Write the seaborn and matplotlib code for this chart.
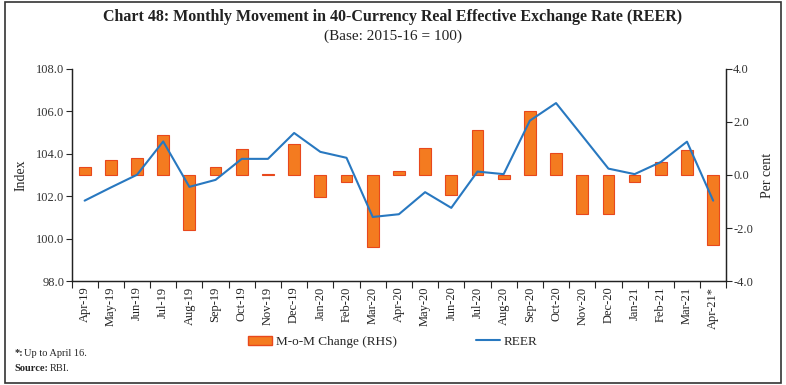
"""Chart 48: Monthly movement in 40-currency REER."""

import matplotlib
matplotlib.use('Agg')
import matplotlib.pyplot as plt
import matplotlib.patches as mpatches
import matplotlib.lines as mlines
from matplotlib.ticker import FixedLocator
import numpy as np
import pandas as pd
import seaborn as sns

# Datos
months = ['Apr-19', 'May-19', 'Jun-19', 'Jul-19', 'Aug-19', 'Sep-19', 'Oct-19',
          'Nov-19', 'Dec-19', 'Jan-20', 'Feb-20', 'Mar-20', 'Apr-20', 'May-20',
          'Jun-20', 'Jul-20', 'Aug-20', 'Sep-20', 'Oct-20', 'Nov-20', 'Dec-20',
          'Jan-21', 'Feb-21', 'Mar-21', 'Apr-21*']
mom_change = [0.30, 0.58, 0.64, 1.51, -2.09, 0.30, 0.98, 0.03, 1.18, -0.83,
              -0.28, -2.73, 0.16, 1.02, -0.77, 1.70, -0.15, 2.42, 0.83, -1.49,
              -1.49, -0.28, 0.49, 0.95, -2.64]
reer = [101.79, 102.41, 103.01, 104.58, 102.44, 102.77, 103.76, 103.76, 104.98,
        104.09, 103.81, 101.02, 101.15, 102.19, 101.45, 103.16, 103.04, 105.56,
        106.39, 104.85, 103.30, 103.04, 103.61, 104.57, 101.79]

sns.set_style('white')
plt.rcParams['font.family'] = ['Liberation Serif', 'DejaVu Serif']

df = pd.DataFrame({'month': months, 'mom': mom_change, 'reer': reer,
                   'pos': np.arange(len(months))})

fig = plt.figure(figsize=(7.86, 3.85), dpi=100)
ax = fig.add_axes([0.091, 0.27, 0.833, 0.551])
ax2 = ax.twinx()

bar_color = '#F47B20'
line_color = '#2878C0'

# Barras (eje derecho)
sns.barplot(data=df, x='month', y='mom', ax=ax2, color=bar_color, width=0.45,
            edgecolor='#E8481C', linewidth=0.8, saturation=1)
# Línea REER (eje izquierdo)
sns.lineplot(data=df, x='pos', y='reer', ax=ax, color=line_color, linewidth=1.5)

ax.set_zorder(ax2.get_zorder() + 1)
ax.patch.set_visible(False)

n = len(months)
ax.set_xlim(-0.5, n - 0.5)
ax.set_ylim(98, 108)
ax.set_yticks(np.arange(98, 108.1, 2))
ax.set_yticklabels([f'{v:.1f}' for v in np.arange(98, 108.1, 2)],
                   fontsize=9, color='#333333')
ax2.set_ylim(-4, 4)
ax2.set_yticks(np.arange(-4, 4.1, 2))
ax2.set_yticklabels([f'{v:.1f}' for v in np.arange(-4, 4.1, 2)],
                    fontsize=9, color='#333333')

ax.set_xticks(np.arange(n))
ax.set_xticklabels(months, rotation=90, fontsize=9, color='#222222')
ax.xaxis.set_minor_locator(FixedLocator(np.arange(-0.5, n, 1)))
ax.tick_params(axis='x', which='major', length=0, pad=4)
ax.tick_params(axis='x', which='minor', length=5, width=0.8, direction='out',
               bottom=True)
ax.tick_params(axis='y', length=4, width=0.8, direction='out', left=True, pad=1)
ax2.tick_params(axis='y', length=4, width=0.8, direction='out', right=True, pad=1)
ax2.tick_params(axis='x', length=0)
ax2.set_xlabel('')
ax.set_xlabel('')

ax.set_ylabel('Index', fontsize=10, labelpad=6)
ax2.set_ylabel('Per cent', fontsize=10, labelpad=6)

for a in (ax, ax2):
    a.spines['top'].set_visible(False)
    for s in ('left', 'right', 'bottom'):
        a.spines[s].set_color('#222222')
        a.spines[s].set_linewidth(0.9)

fig.text(0.5, 0.955, 'Chart 48: Monthly Movement in 40-Currency Real Effective Exchange Rate (REER)',
         ha='center', va='center', fontsize=11.5, fontweight='bold', color='#222222')
fig.text(0.5, 0.905, '(Base: 2015-16 = 100)', ha='center', va='center',
         fontsize=11, color='#222222')

handles = [mpatches.Patch(facecolor=bar_color, edgecolor='#E8481C', label='M-o-M Change (RHS)'),
           mlines.Line2D([], [], color=line_color, linewidth=1.5, label='REER')]
fig.legend(handles=handles, loc='center', bbox_to_anchor=(0.5, 0.112), ncol=2,
           frameon=False, fontsize=9.5, columnspacing=6, handlelength=1.8,
           handletextpad=0.3)

fig.text(0.018, 0.083, '*:', fontsize=7.5, fontweight='bold', va='center')
fig.text(0.031, 0.083, 'Up to April 16.', fontsize=7.5, va='center')
fig.text(0.018, 0.043, 'Source:', fontsize=7.5, fontweight='bold', va='center')
fig.text(0.063, 0.043, 'RBI.', fontsize=7.5, va='center')

fig.patches.append(mpatches.Rectangle((0.006, 0.006), 0.988, 0.988, transform=fig.transFigure,
                                      fill=False, edgecolor='#333333', linewidth=1.2))

fig.savefig('out.png', dpi=100)
plt.close(fig)
